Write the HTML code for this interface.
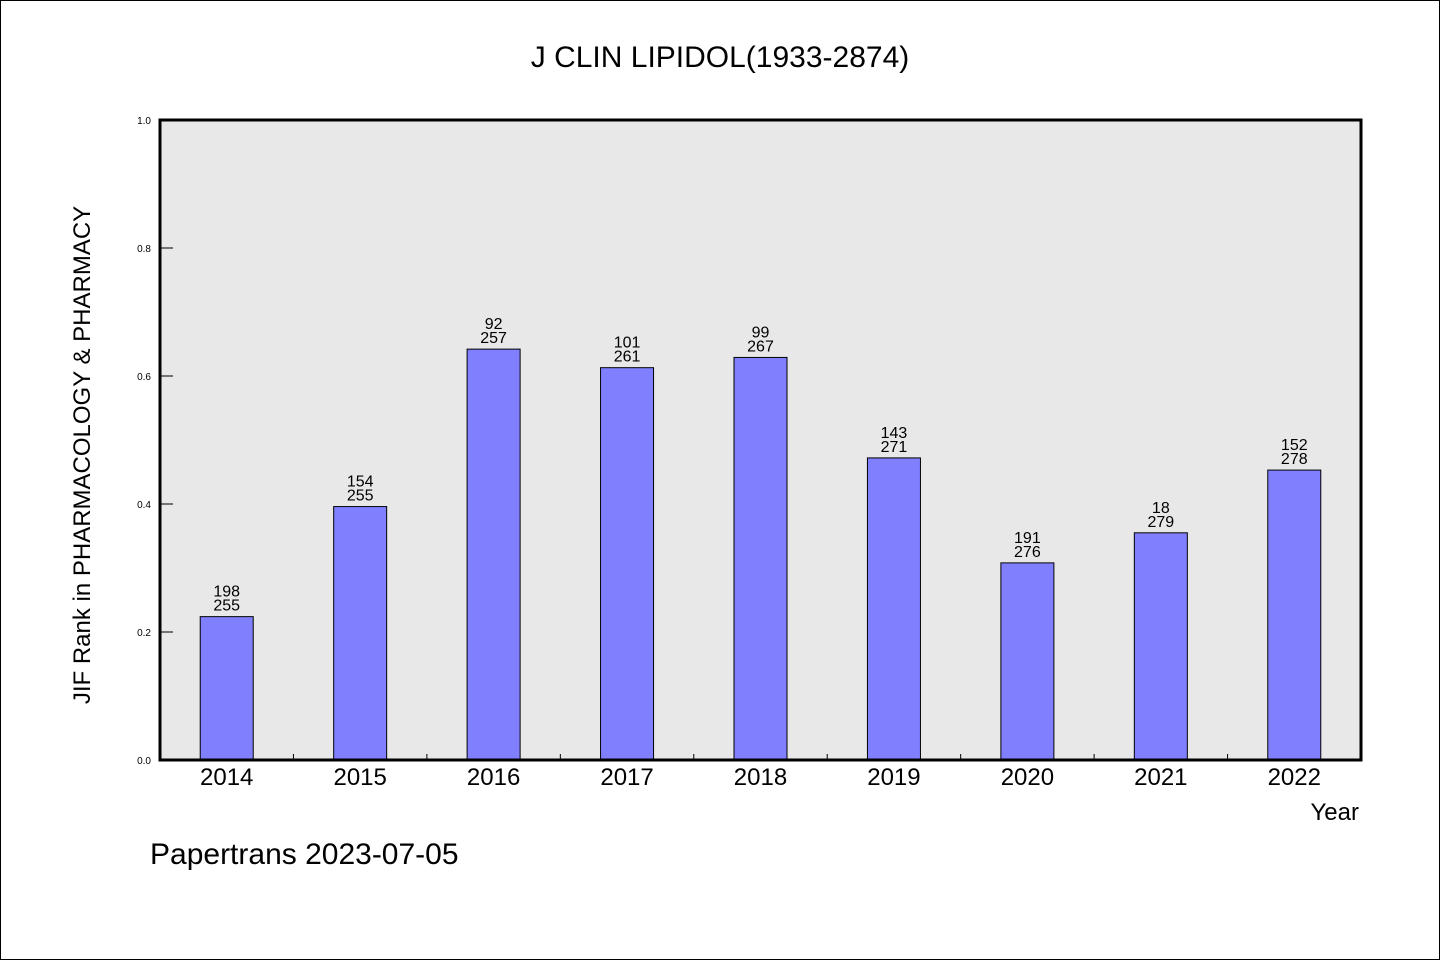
<!DOCTYPE html>
<html><head><meta charset="utf-8"><style>
html,body{margin:0;padding:0;background:#fff}
svg{display:block}
text{font-family:"WenQuanYi Zen Hei","Liberation Sans",sans-serif;fill:#000}
</style></head><body>
<svg id="chart" width="1440" height="960" viewBox="0 0 1440 960">
<rect x="0.5" y="0.5" width="1439" height="959" fill="#fff" stroke="#000" stroke-width="1"/>
<text x="720" y="67" font-size="30" text-anchor="middle">J CLIN LIPIDOL(1933-2874)</text>
<rect x="160" y="120" width="1201" height="640" fill="#e8e8e8"/>
<g id="bars"></g>
<rect x="160" y="120" width="1201" height="640" fill="none" stroke="#000" stroke-width="3"/>
<text transform="translate(90,455) rotate(-90)" font-size="24" text-anchor="middle">JIF Rank in PHARMACOLOGY &amp; PHARMACY</text>
<text x="1359" y="820" font-size="24" text-anchor="end">Year</text>
<text x="150" y="864" font-size="30">Papertrans 2023-07-05</text>
</svg>
<script>
const categories=["2014","2015","2016","2017","2018","2019","2020","2021","2022"];
const values=[0.224,0.396,0.642,0.613,0.629,0.472,0.308,0.355,0.453];
const ranks=["198","154","92","101","99","143","191","18","152"];
const totals=["255","255","257","261","267","271","276","279","278"];
const yTicks=["0.0","0.2","0.4","0.6","0.8","1.0"];
const NS="http://www.w3.org/2000/svg";
const x0=160,x1=1361,yTop=120,yBot=760;
const band=(x1-x0)/categories.length;
const xs=i=>x0+band*i+band/2;
const ys=v=>yBot-v*(yBot-yTop);
const g=document.getElementById('bars');
function mk(t,a){const e=document.createElementNS(NS,t);for(const k in a)e.setAttribute(k,a[k]);g.appendChild(e);return e;}
yTicks.forEach(t=>{const y=ys(parseFloat(t));
 const l=mk('line',{x1:160,x2:173,y1:y,y2:y,stroke:'#000','stroke-width':1});
 
 
 const tx=mk('text',{x:151,y:y+4,'font-size':10,'text-anchor':'end'});tx.textContent=t;
 
 
});
for(let i=1;i<categories.length;i++){const x=x0+band*i;
 const l=mk('line',{x1:x,x2:x,y1:yBot-6,y2:yBot,stroke:'#000','stroke-width':1});
 
 
}
categories.forEach((c,i)=>{const cx=xs(i),w=53,y=ys(values[i]);
 const r=mk('rect',{x:cx-w/2,y:y,width:w,height:yBot-y,fill:'#8080ff',stroke:'#000','stroke-width':1});
 
 
 const a=mk('text',{x:cx,y:y-20,'font-size':16,'text-anchor':'middle'});a.textContent=ranks[i];
 
 
 const b=mk('text',{x:cx,y:y-6,'font-size':16,'text-anchor':'middle'});b.textContent=totals[i];
 
 
 const t=mk('text',{x:cx,y:785,'font-size':24,'text-anchor':'middle'});t.textContent=c;
 
 
});
</script>
</body></html>
